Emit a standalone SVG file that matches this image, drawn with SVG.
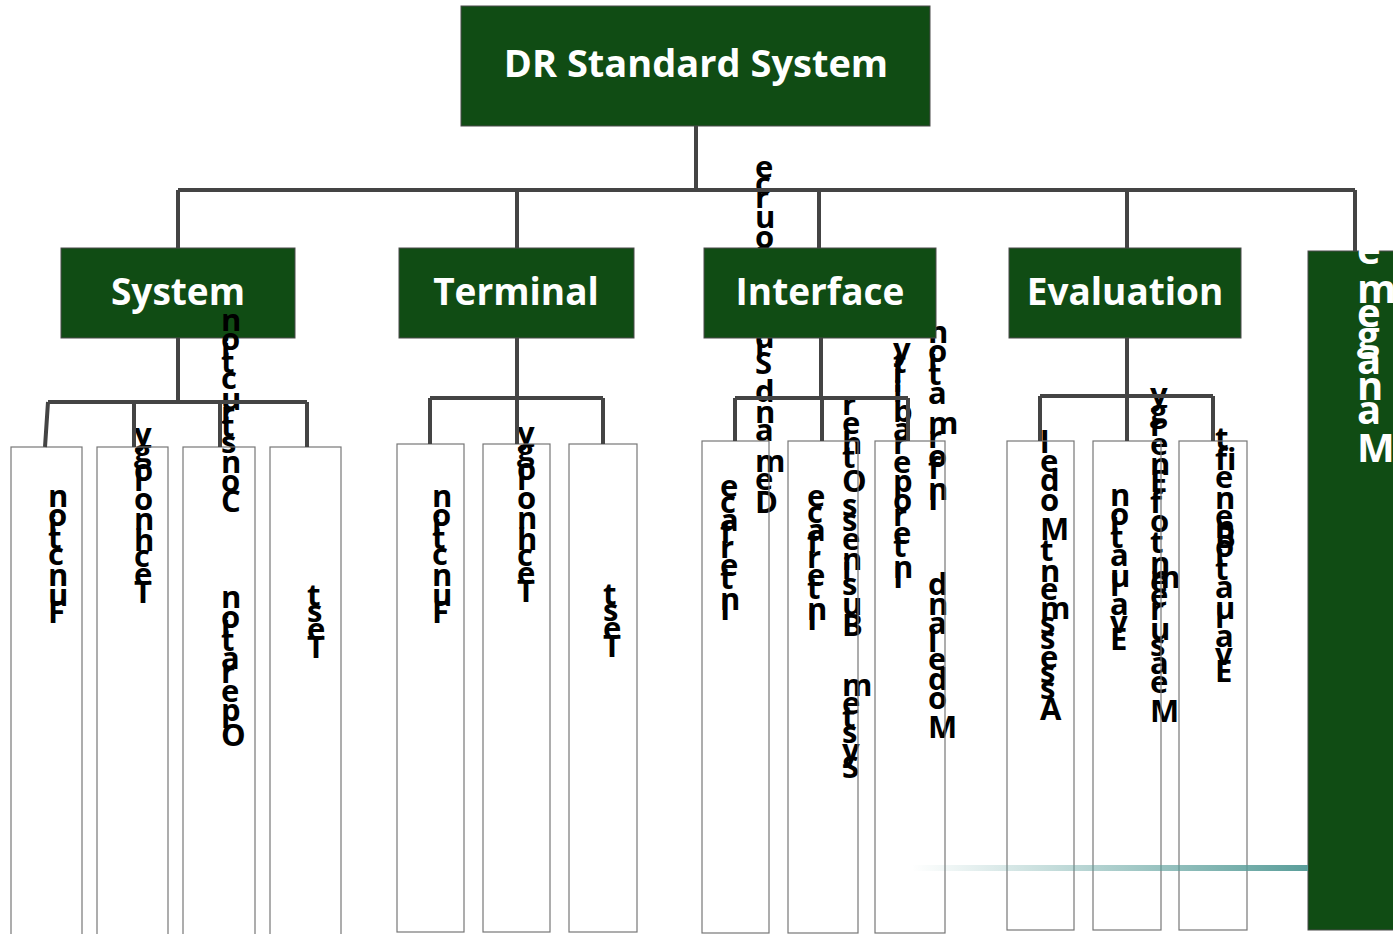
<svg xmlns="http://www.w3.org/2000/svg" width="1393" height="934" viewBox="0 0 1393 934">
  <defs>
    <linearGradient id="fade" x1="0" y1="0" x2="1" y2="0">
      <stop offset="0" stop-color="#5a9e9a" stop-opacity="0"/>
      <stop offset="1" stop-color="#5a9e9a" stop-opacity="1"/>
    </linearGradient>
  </defs>
  <style>
    .head rect { fill: #104c14; stroke: #4a4a4a; stroke-width: 1; }
    .head text { font-family: "Open Sans", "Noto Sans", sans-serif; font-weight: 700; fill: #ffffff; text-anchor: middle; }
    .t1 { font-size: 38px; }
    .t2 { font-size: 37px; }
    .leaf rect { fill: none; stroke: #777777; stroke-width: 1.2; }
    .vt { font-family: "Open Sans", "Noto Sans", sans-serif; font-weight: 700; font-size: 31px; fill: #000000; }
    .vw { font-family: "Open Sans", "Noto Sans", sans-serif; font-weight: 700; font-size: 40px; fill: #ffffff; }
    .conn path { fill: none; stroke: #444444; stroke-width: 4; }
  </style>

  <!-- root -->
  <g id="root" class="head">
    <rect x="461" y="6" width="469" height="120"/>
    <text class="t1" x="696" y="77">DR Standard System</text>
  </g>

  <!-- second level -->
  <g id="system" class="head">
    <rect x="61" y="248" width="234" height="90"/>
    <text class="t2" x="178" y="305">System</text>
  </g>
  <g id="terminal" class="head">
    <rect x="399" y="248" width="235" height="90"/>
    <text class="t2" x="516" y="305">Terminal</text>
  </g>
  <g id="evaluation" class="head">
    <rect x="1009" y="248" width="232" height="90"/>
    <text class="t2" x="1125" y="305">Evaluation</text>
  </g>

  <!-- leaves: upright letters stacked bottom to top -->
  <g id="sys-function" class="leaf">
    <text class="vt" transform="translate(48,623) rotate(-90)" rotate="90">Function</text>
    <rect x="11" y="447" width="71" height="490"/>
  </g>
  <g id="sys-technology" class="leaf">
    <text class="vt" transform="translate(134,603) rotate(-90)" rotate="90">Technology</text>
    <rect x="97" y="447" width="71" height="490"/>
  </g>
  <g id="sys-construction" class="leaf">
    <text class="vt" transform="translate(221,512) rotate(-90)" rotate="90">Construction</text>
    <text class="vt" transform="translate(221,746) rotate(-90)" rotate="90">Operation</text>
    <rect x="183" y="447" width="72" height="490"/>
  </g>
  <g id="sys-test" class="leaf">
    <text class="vt" transform="translate(307,658) rotate(-90)" rotate="90">Test</text>
    <rect x="270" y="447" width="71" height="490"/>
  </g>

  <g id="term-function" class="leaf">
    <text class="vt" transform="translate(432,623) rotate(-90)" rotate="90">Function</text>
    <rect x="397" y="444" width="67" height="488"/>
  </g>
  <g id="term-technology" class="leaf">
    <text class="vt" transform="translate(517,602) rotate(-90)" rotate="90">Technology</text>
    <rect x="483" y="444" width="67" height="488"/>
  </g>
  <g id="term-test" class="leaf">
    <text class="vt" transform="translate(603,657) rotate(-90)" rotate="90">Test</text>
    <rect x="569" y="444" width="68" height="488"/>
  </g>

  <g id="if-demand" class="leaf">
    <text class="vt" transform="translate(755,513) rotate(-90)" rotate="90">Demand Side Resource</text>
    <text class="vt" transform="translate(720,620) rotate(-90)" rotate="90">Interface</text>
    <rect x="702" y="441" width="67" height="492"/>
  </g>
  <g id="if-business" class="leaf">
    <text class="vt" transform="translate(807,630) rotate(-90)" rotate="90">Interface</text>
    <text class="vt" transform="translate(842,636) rotate(-90)" rotate="90">Business Other</text>
    <text class="vt" transform="translate(842,778) rotate(-90)" rotate="90">System</text>
    <rect x="788" y="441" width="70" height="492"/>
  </g>
  <g id="if-model" class="leaf">
    <text class="vt" transform="translate(893,588) rotate(-90)" rotate="90">Interoperability</text>
    <text class="vt" transform="translate(928,510) rotate(-90)" rotate="90">Information</text>
    <text class="vt" transform="translate(928,738) rotate(-90)" rotate="90">Model and</text>
    <rect x="875" y="441" width="70" height="492"/>
  </g>

  <g id="ev-assessment" class="leaf">
    <text class="vt" transform="translate(1040,600) rotate(-90)" rotate="90">ent Model</text>
    <text class="vt" transform="translate(1040,720) rotate(-90)" rotate="90">Assessm</text>
    <rect x="1007" y="441" width="67" height="489"/>
  </g>
  <g id="ev-measurement" class="leaf">
    <text class="vt" transform="translate(1110,650) rotate(-90)" rotate="90">Evaluation</text>
    <text class="vt" transform="translate(1150,592) rotate(-90)" rotate="90">ent of Energy</text>
    <text class="vt" transform="translate(1150,722) rotate(-90)" rotate="90">Measurem</text>
    <rect x="1093" y="441" width="68" height="489"/>
  </g>
  <g id="ev-benefit" class="leaf">
    <text class="vt" transform="translate(1215,548) rotate(-90)" rotate="90">Benefit</text>
    <text class="vt" transform="translate(1215,682) rotate(-90)" rotate="90">Evaluation</text>
    <rect x="1179" y="441" width="68" height="489"/>
  </g>

  <g id="interface" class="head">
    <rect x="704" y="248" width="232" height="90"/>
    <text class="t2" x="820" y="305">Interface</text>
  </g>

  <g id="management" class="head">
    <rect x="1308" y="251" width="100" height="679"/>
    <text class="vw" transform="translate(1357,462) rotate(-90)" rotate="90" style="text-anchor:start">Management</text>
  </g>

  <!-- connectors -->
  <g id="connectors" class="conn">
    <path d="M696,126 V190 M178,190 H1355 M178,190 V248 M517,190 V248 M819,190 V248 M1127,190 V248 M1355,190 V251"/>
    <path d="M178,338 V402 M48,402 H307 M48,402 L45,447 M134,402 V447 M220,402 V447 M307,402 V447"/>
    <path d="M517,338 V398 M430,398 H603 M430,398 V444 M517,398 V444 M603,398 V444"/>
    <path d="M821,338 V398 M735,398 H908 M735,398 V441 M822,398 V441 M908,398 V441"/>
    <path d="M1127,338 V396 M1040,396 H1213 M1040,396 V441 M1127,396 V441 M1213,396 V441"/>
  </g>

  <!-- fading accent bar -->
  <rect x="912" y="865" width="396" height="6" fill="url(#fade)"/>
</svg>
